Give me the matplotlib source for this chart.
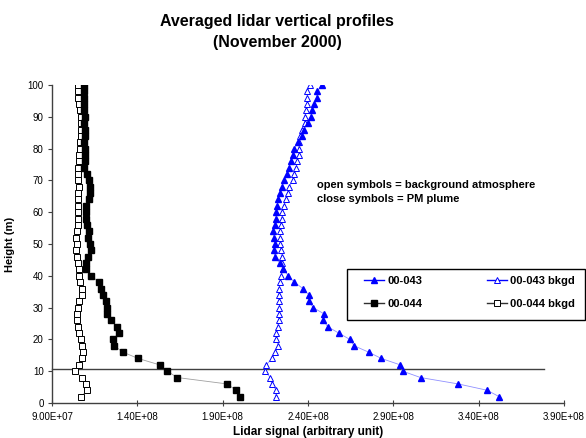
import matplotlib
matplotlib.use("Agg")
import matplotlib.pyplot as plt
from matplotlib.lines import Line2D
from matplotlib.patches import Rectangle
from matplotlib.ticker import FuncFormatter

plt.rcParams['font.family'] = ['Liberation Sans', 'DejaVu Sans']

# height of each profile point (m)
heights = [2, 4, 6, 8, 10, 12, 14, 16, 18, 20, 22, 24, 26, 28, 30, 32, 34, 36, 38, 40,
           42, 44, 46, 48, 50, 52, 54, 56, 58, 60, 62, 64, 66, 68, 70, 72, 74, 76, 78, 80,
           82, 84, 86, 88, 90, 92, 94, 96, 98, 100]

# lidar signal, 1e8 units
s043 = [3.52, 3.45, 3.28, 3.06, 2.955, 2.94, 2.83, 2.755, 2.67, 2.645,
        2.58, 2.515, 2.49, 2.495, 2.43, 2.405, 2.405, 2.37, 2.32, 2.285,
        2.255, 2.235, 2.205, 2.20, 2.205, 2.20, 2.197, 2.205, 2.21, 2.215,
        2.22, 2.225, 2.235, 2.25, 2.26, 2.275, 2.29, 2.30, 2.31, 2.32,
        2.34, 2.365, 2.375, 2.40, 2.415, 2.425, 2.435, 2.45, 2.455, 2.48]
s043_bkgd = [2.21, 2.215, 2.187, 2.18, 2.148, 2.155, 2.19, 2.207, 2.225, 2.215,
             2.215, 2.222, 2.228, 2.23, 2.232, 2.232, 2.23, 2.23, 2.236, 2.243,
             2.255, 2.25, 2.245, 2.24, 2.238, 2.236, 2.236, 2.24, 2.245, 2.25,
             2.26, 2.27, 2.28, 2.29, 2.31, 2.32, 2.33, 2.336, 2.347, 2.345,
             2.349, 2.353, 2.363, 2.38, 2.38, 2.39, 2.395, 2.395, 2.395, 2.41]
s044 = [2.00, 1.98, 1.925, 1.635, 1.575, 1.53, 1.405, 1.315, 1.265, 1.26,
        1.29, 1.28, 1.245, 1.225, 1.22, 1.215, 1.20, 1.19, 1.175, 1.13,
        1.10, 1.10, 1.11, 1.13, 1.12, 1.11, 1.115, 1.105, 1.10, 1.10,
        1.10, 1.115, 1.12, 1.12, 1.115, 1.105, 1.09, 1.095, 1.095, 1.095,
        1.09, 1.095, 1.095, 1.09, 1.095, 1.09, 1.09, 1.09, 1.085, 1.085]
s044_bkgd = [1.07, 1.107, 1.097, 1.075, 1.035, 1.06, 1.075, 1.08, 1.078, 1.07,
             1.06, 1.05, 1.045, 1.045, 1.05, 1.06, 1.078, 1.075, 1.065, 1.06,
             1.058, 1.052, 1.048, 1.04, 1.045, 1.042, 1.045, 1.05, 1.055, 1.055,
             1.055, 1.055, 1.055, 1.058, 1.055, 1.05, 1.052, 1.058, 1.06, 1.062,
             1.065, 1.068, 1.068, 1.07, 1.072, 1.065, 1.06, 1.055, 1.053, 1.052]

plume_height = 10.8
xticks = [0.9e8, 1.4e8, 1.9e8, 2.4e8, 2.9e8, 3.4e8, 3.9e8]
yticks = [0, 10, 20, 30, 40, 50, 60, 70, 80, 90, 100]

W, H = 586, 438
fig = plt.figure(figsize=(W / 100, H / 100), dpi=100)
ax = fig.add_axes([52 / W, 1 - 403 / H, 512 / W, 318 / H])

sc = 1e8
ax.plot([v * sc for v in s044_bkgd], heights, color='#9a9a9a', lw=0.6,
        marker='s', ms=4, mfc='white', mec='black', mew=0.7)
ax.plot([v * sc for v in s044], heights, color='#a0a0a0', lw=0.6,
        marker='s', ms=4.3, mfc='black', mec='black')
ax.plot([v * sc for v in s043_bkgd], heights, color='#9090ff', lw=0.6,
        marker='^', ms=4.8, mfc='white', mec='#0000ff', mew=0.7)
ax.plot([v * sc for v in s043], heights, color='#9090ff', lw=0.6,
        marker='^', ms=4.8, mfc='#0000ff', mec='#0000ff')

# PM plume level line
ax.plot([0.9e8, 3.78e8], [plume_height, plume_height], color='#404040', lw=1.0,
        clip_on=False, zorder=1)

ax.set_xlim(0.9e8, 3.9e8)
ax.set_ylim(0, 100)
ax.set_xticks(xticks)
ax.set_yticks(yticks)
ax.xaxis.set_major_formatter(FuncFormatter(lambda v, p: f"{v:.2E}"))
ax.tick_params(labelsize=7, width=0.8, color='#404040')
ax.tick_params(axis='x', direction='inout', length=5, pad=4)
ax.tick_params(axis='y', direction='out', length=3, pad=3)
for side in ['top', 'right']:
    ax.spines[side].set_visible(False)
for side in ['left', 'bottom']:
    ax.spines[side].set_color('#404040')
    ax.spines[side].set_linewidth(1.0)

ax.set_xlabel('Lidar signal (arbitrary unit)', fontsize=8.5, fontweight='bold', labelpad=3)
ax.set_ylabel('Height (m)', fontsize=8, fontweight='bold', labelpad=9)

fig.text(277 / W, 1 - 32 / H, 'Averaged lidar vertical profiles\n(November 2000)',
         ha='center', va='center', fontsize=11.5, fontweight='bold', linespacing=1.55)

fig.text(317 / W, 1 - 185 / H, 'open symbols = background atmosphere',
         ha='left', va='center', fontsize=8, fontweight='bold')
fig.text(317 / W, 1 - 199 / H, 'close symbols = PM plume',
         ha='left', va='center', fontsize=8, fontweight='bold')

# legend
handles = [
    Line2D([], [], color='#0000ff', lw=1, marker='^', ms=4.5, mfc='#0000ff', mec='#0000ff'),
    Line2D([], [], color='#303030', lw=1, marker='s', ms=4, mfc='black', mec='black'),
    Line2D([], [], color='#0000ff', lw=1, marker='^', ms=4.5, mfc='white', mec='#0000ff', mew=0.7),
    Line2D([], [], color='#303030', lw=1, marker='s', ms=4, mfc='white', mec='black', mew=0.7),
]
labels = ['00-043', '00-044', '00-043 bkgd', '00-044 bkgd']
fig.legend(handles, labels, ncol=2, loc='upper left', frameon=False,
           bbox_to_anchor=(364 / W, 1 - 276 / H), borderpad=0, borderaxespad=0,
           handlelength=1.8, handletextpad=0.3, columnspacing=5.8, labelspacing=1.2,
           prop={'size': 8, 'weight': 'bold'})
fig.add_artist(Rectangle((347 / W, 1 - 320 / H), 238 / W, 51 / H,
                         transform=fig.transFigure, fill=False, edgecolor='black', lw=1))

fig.savefig('out.png', dpi=100)
